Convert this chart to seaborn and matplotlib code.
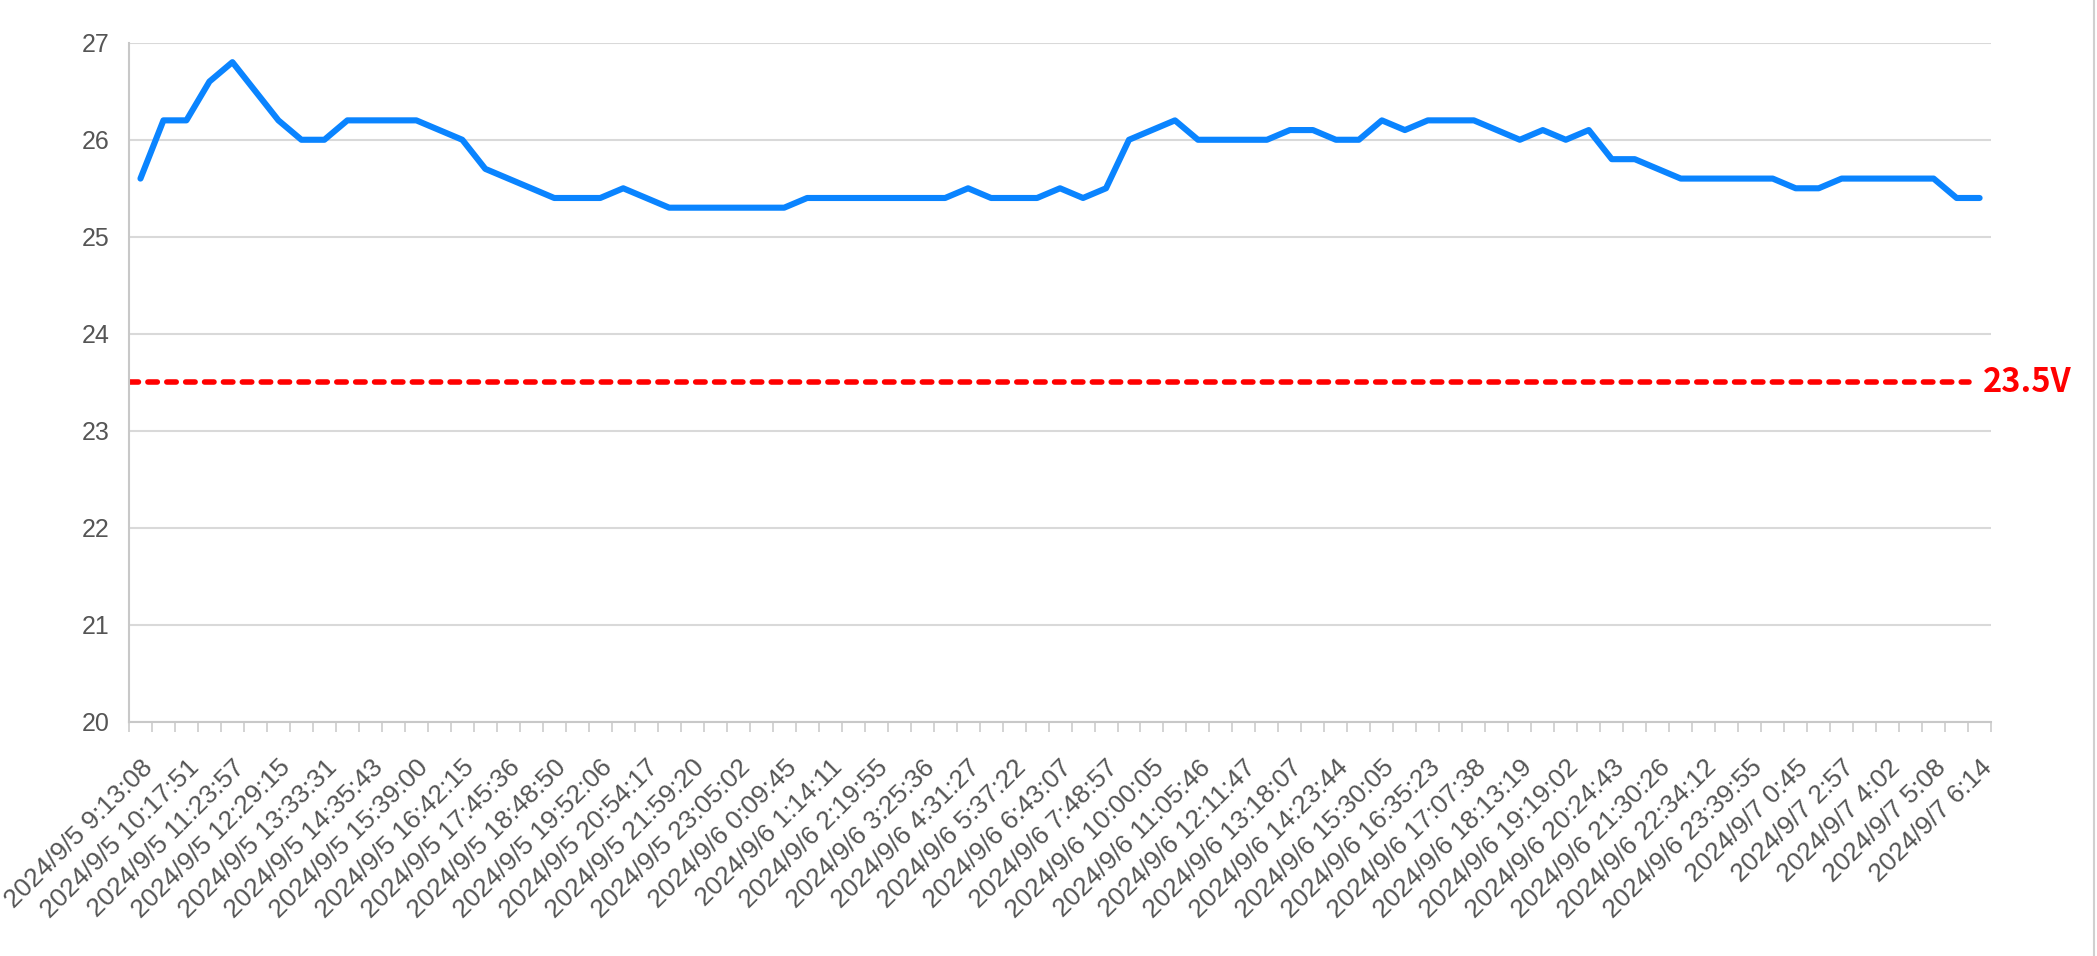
import numpy as np
import pandas as pd
import matplotlib
matplotlib.use("Agg")
import matplotlib.pyplot as plt
import matplotlib.transforms as mtransforms
import seaborn as sns

# voltage readings, one per sample
voltage = [25.6, 26.2, 26.2, 26.6, 26.8, 26.5, 26.2, 26.0, 26.0, 26.2,
           26.2, 26.2, 26.2, 26.1, 26.0, 25.7, 25.6, 25.5, 25.4, 25.4,
           25.4, 25.5, 25.4, 25.3, 25.3, 25.3, 25.3, 25.3, 25.3, 25.4,
           25.4, 25.4, 25.4, 25.4, 25.4, 25.4, 25.5, 25.4, 25.4, 25.4,
           25.5, 25.4, 25.5, 26.0, 26.1, 26.2, 26.0, 26.0, 26.0, 26.0,
           26.1, 26.1, 26.0, 26.0, 26.2, 26.1, 26.2, 26.2, 26.2, 26.1,
           26.0, 26.1, 26.0, 26.1, 25.8, 25.8, 25.7, 25.6, 25.6, 25.6,
           25.6, 25.6, 25.5, 25.5, 25.6, 25.6, 25.6, 25.6, 25.6, 25.4,
           25.4]

# labels shown on every other sample
tick_labels = ['2024/9/5 9:13:08', '2024/9/5 10:17:51', '2024/9/5 11:23:57',
               '2024/9/5 12:29:15', '2024/9/5 13:33:31', '2024/9/5 14:35:43',
               '2024/9/5 15:39:00', '2024/9/5 16:42:15', '2024/9/5 17:45:36',
               '2024/9/5 18:48:50', '2024/9/5 19:52:06', '2024/9/5 20:54:17',
               '2024/9/5 21:59:20', '2024/9/5 23:05:02', '2024/9/6 0:09:45',
               '2024/9/6 1:14:11', '2024/9/6 2:19:55', '2024/9/6 3:25:36',
               '2024/9/6 4:31:27', '2024/9/6 5:37:22', '2024/9/6 6:43:07',
               '2024/9/6 7:48:57', '2024/9/6 10:00:05', '2024/9/6 11:05:46',
               '2024/9/6 12:11:47', '2024/9/6 13:18:07', '2024/9/6 14:23:44',
               '2024/9/6 15:30:05', '2024/9/6 16:35:23', '2024/9/6 17:07:38',
               '2024/9/6 18:13:19', '2024/9/6 19:19:02', '2024/9/6 20:24:43',
               '2024/9/6 21:30:26', '2024/9/6 22:34:12', '2024/9/6 23:39:55',
               '2024/9/7 0:45', '2024/9/7 2:57', '2024/9/7 4:02',
               '2024/9/7 5:08', '2024/9/7 6:14']

threshold = 23.5
threshold_label = '23.5V'

df = pd.DataFrame({'idx': np.arange(len(voltage)), 'voltage': voltage})

sns.set_theme(style="whitegrid")
plt.rcParams['font.family'] = ['Liberation Sans', 'DejaVu Sans']

fig = plt.figure(figsize=(20.97, 9.56), dpi=100)
ax = fig.add_axes([0.0615, 0.2448, 0.888, 0.7105])

sns.lineplot(data=df, x='idx', y='voltage', ax=ax, color='#0a84ff', linewidth=4.4)
ax.axhline(threshold, xmin=0, xmax=0.988, color='#ff0000', linewidth=4.0,
           linestyle=(0, (1.7, 1.7)), dash_capstyle='round')
ax.text(0.9955, threshold, threshold_label, transform=ax.get_yaxis_transform(),
        color='#ff0000', fontsize=23.5, fontweight='bold', va='center', ha='left',
        family=['Noto Sans CJK SC', 'DejaVu Sans'])

ax.set_xlim(-0.5, len(voltage) - 0.5)
ax.set_ylim(20, 27)
ax.set_yticks(range(20, 28))
ax.set_xticks(np.arange(0, len(voltage), 2))
ax.set_xticklabels(tick_labels, rotation=45, ha='right', va='top',
                   rotation_mode='anchor')
ax.set_xticks(np.arange(-0.5, len(voltage)), minor=True)
ax.set_xlabel('')
ax.set_ylabel('')

# shift the slanted labels a little to the right, like the original
shift = mtransforms.ScaledTranslation(0.24, 0, fig.dpi_scale_trans)
for lab in ax.get_xticklabels():
    lab.set_transform(lab.get_transform() + shift)

ax.grid(axis='x', visible=False)
ax.grid(axis='y', color='#d9d9d9', linewidth=1.5)
ax.tick_params(axis='y', length=0, pad=14, labelsize=18, labelcolor='#555555')
ax.tick_params(axis='x', which='major', length=0, pad=24, labelsize=19,
               labelcolor='#555555')
ax.tick_params(axis='x', which='minor', length=7, width=1.2, color='#cccccc',
               bottom=True)
for side in ['top', 'right']:
    ax.spines[side].set_visible(False)
for side in ['left', 'bottom']:
    ax.spines[side].set_color('#c8c8c8')
    ax.spines[side].set_linewidth(1.5)

fig.add_artist(plt.Line2D([0.9985, 0.9985], [0, 1], color='#d0d0d0', linewidth=1.5))

fig.savefig('out.png', dpi=100)
